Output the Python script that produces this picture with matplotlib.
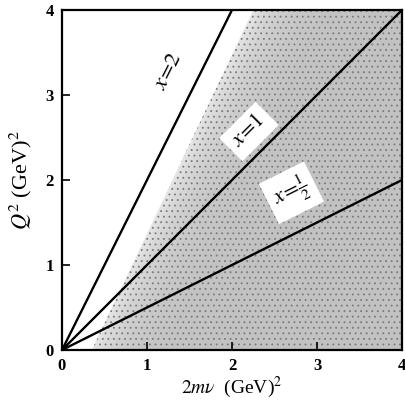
import matplotlib.pyplot as plt
import numpy as np
from matplotlib.patches import Polygon

plt.rcParams['font.family'] = ['Liberation Serif', 'DejaVu Serif']
plt.rcParams['mathtext.fontset'] = 'stix'

# Bjorken-x lines: Q^2 = x * 2m nu
x_values = [2, 1, 0.5]
x_labels = [r'$x\!=\!2$', r'$x\!=\!1$', r'$x\!=\!\frac{1}{2}$']
label_pos = [(1.26, 3.28), (2.2, 2.57), (2.7, 1.85)]

# edge of the stippled region (2m nu, Q^2)
edge_nu = [0.35, 2.25]
edge_q2 = [0.0, 4.0]

ticks = [0, 1, 2, 3, 4]

fig = plt.figure(figsize=(4.05, 4.01), dpi=100)
ax = fig.add_axes([62 / 405, 51 / 401, 340 / 405, 340 / 401])
ax.set_xlim(0, 4)
ax.set_ylim(0, 4)

# shaded region, lighter near its upper edge
poly = Polygon([(edge_nu[0], edge_q2[0]), (edge_nu[1], edge_q2[1]),
                (4, 4), (4, 0)], closed=True, facecolor='none', edgecolor='none')
ax.add_patch(poly)
gx, gy = np.meshgrid(np.linspace(0, 4, 300), np.linspace(0, 4, 300))
slope = (edge_nu[1] - edge_nu[0]) / (edge_q2[1] - edge_q2[0])
dist = gx - (edge_nu[0] + slope * gy)
shade = 0.76 + 0.14 * np.exp(-np.clip(dist, 0, None) / 0.3)
img = ax.imshow(shade, extent=[0, 4, 0, 4], origin='lower', cmap='gray',
                vmin=0, vmax=1, interpolation='bilinear', zorder=1)
img.set_clip_path(poly)
plt.rcParams['hatch.linewidth'] = 0.6
dots = Polygon(poly.get_xy(), closed=True, facecolor='none',
               edgecolor='#7a7a7a', hatch='...', linewidth=0, zorder=1.5)
ax.add_patch(dots)

nu = np.linspace(0, 4, 200)
for xv in x_values:
    ax.plot(nu, xv * nu, color='black', linewidth=1.7, zorder=3)

for (px, py), lab, xv in zip(label_pos, x_labels, x_values):
    ang = np.degrees(np.arctan(xv))
    box = None if xv == 2 else dict(facecolor='white', edgecolor='none', pad=5)
    ax.text(px, py, lab, rotation=ang, rotation_mode='anchor', ha='center',
            va='center', fontsize=16, bbox=box, zorder=4)

ax.set_xticks(ticks)
ax.set_yticks(ticks)
ax.set_xticklabels([str(t) for t in ticks], fontweight='bold', fontsize=12)
ax.set_yticklabels([str(t) for t in ticks], fontweight='bold', fontsize=12)
ax.tick_params(direction='in', length=6, width=1.2, pad=6)
for s in ax.spines.values():
    s.set_linewidth(1.6)

ax.set_xlabel(r'$2m\nu$  (GeV)$^2$', fontsize=14, labelpad=0)
ax.set_ylabel(r'$Q^2$ (GeV)$^2$', fontsize=16, labelpad=8)

fig.savefig('out.png', dpi=100)
